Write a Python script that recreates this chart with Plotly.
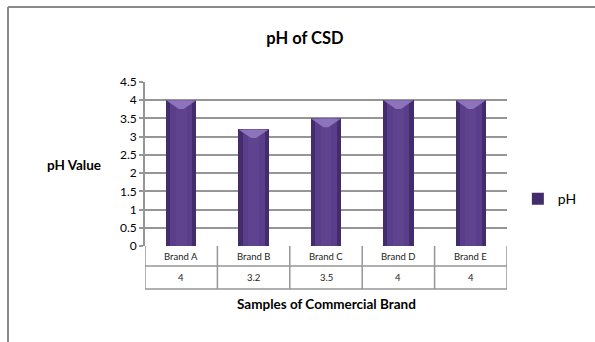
import plotly.graph_objects as go

categories = ["Brand A", "Brand B", "Brand C", "Brand D", "Brand E"]
ph_values = [4, 3.2, 3.5, 4, 4]
value_labels = ["4", "3.2", "3.5", "4", "4"]
series_name = "pH"

FONT = "Lato, 'Open Sans', sans-serif"
GRID = "#969696"
xs = list(range(len(categories)))
BW = 0.42

fig = go.Figure()
# outer (dark edge) bar
fig.add_trace(go.Bar(x=xs, y=ph_values, width=BW, name=series_name,
                     marker=dict(color="#432C6C", line=dict(width=0)),
                     showlegend=True, hoverinfo="skip"))
# inner lighter body
fig.add_trace(go.Bar(x=xs, y=ph_values, width=BW * 0.72,
                     marker=dict(color="#5A3D8B", line=dict(width=0)),
                     showlegend=False, hoverinfo="skip"))
fig.add_trace(go.Bar(x=xs, y=ph_values, width=BW * 0.35,
                     marker=dict(color="#60438F", line=dict(width=0)),
                     showlegend=False, hoverinfo="skip"))
# top bevel shapes derived from the data
for i, v in zip(xs, ph_values):
    fig.add_trace(go.Scatter(
        x=[i - BW / 2, i + BW / 2, i + BW * 0.08, i - BW * 0.08, i - BW / 2],
        y=[v, v, v - 0.24, v - 0.24, v],
        fill="toself", mode="lines", line=dict(width=0),
        fillcolor="rgba(150,125,195,0.85)", showlegend=False, hoverinfo="skip"))

shapes = []
ph_h = 164.0
r1 = -20 / ph_h
r2 = -43 / ph_h
xl = -0.5 - 31 / 72.4
for k in range(len(categories) + 1):
    shapes.append(dict(type="line", xref="x", yref="paper", x0=k - 0.5, x1=k - 0.5,
                       y0=0, y1=r2, line=dict(color=GRID, width=1.5)))
shapes.append(dict(type="line", xref="x", yref="paper", x0=xl, x1=xl, y0=r1, y1=r2,
                   line=dict(color=GRID, width=1.5)))
for yy in (r1, r2):
    shapes.append(dict(type="line", xref="x", yref="paper", x0=xl, x1=len(categories) - 0.5,
                       y0=yy, y1=yy, line=dict(color=GRID, width=1.5)))
# legend key inside table
shapes.append(dict(type="rect", xref="x", yref="paper",
                   x0=xl + 0.075, x1=xl + 0.155, y0=(r1 + r2) / 2 - 0.022, y1=(r1 + r2) / 2 + 0.022,
                   fillcolor="#563A86", line=dict(width=0)))
# outer frame
shapes.append(dict(type="line", xref="paper", yref="paper", x0=(8 - 145) / 362, x1=1.4,
                   y0=(246 - 7) / ph_h, y1=(246 - 7) / ph_h, line=dict(color="#8a8a8a", width=2)))
shapes.append(dict(type="line", xref="paper", yref="paper", x0=(8 - 145) / 362, x1=(8 - 145) / 362,
                   y0=(246 - 7) / ph_h, y1=-0.7, line=dict(color="#8a8a8a", width=2)))

annotations = []
for i, (c, t) in enumerate(zip(categories, value_labels)):
    annotations.append(dict(x=i, y=r1 / 2, xref="x", yref="paper", text=c, showarrow=False,
                            font=dict(family=FONT, size=9.5, color="#222"),
                            xanchor="center", yanchor="middle"))
    annotations.append(dict(x=i, y=(r1 + r2) / 2, xref="x", yref="paper", text=t, showarrow=False,
                            font=dict(family=FONT, size=9.5, color="#222"),
                            xanchor="center", yanchor="middle"))
annotations.append(dict(x=xl + 0.17, y=(r1 + r2) / 2, xref="x", yref="paper", text=series_name,
                        showarrow=False, xanchor="left", yanchor="middle",
                        font=dict(family=FONT, size=9.5, color="#222")))
annotations.append(dict(x=(74 - 145) / 362, y=(246 - 165) / ph_h, xref="paper", yref="paper",
                        text="<b>pH Value</b>", showarrow=False, xanchor="center", yanchor="middle",
                        font=dict(family=FONT, size=13.5, color="#000")))
annotations.append(dict(x=(326 - 145) / 362, y=-(304 - 246) / ph_h, xref="paper", yref="paper",
                        text="<b>Samples of Commercial Brand</b>", showarrow=False,
                        xanchor="center", yanchor="middle",
                        font=dict(family=FONT, size=13.5, color="#000")))

fig.update_layout(
    width=595, height=342,
    margin=dict(l=145, r=88, t=82, b=96, autoexpand=False),
    paper_bgcolor="white", plot_bgcolor="white",
    barmode="overlay", bargap=0,
    title=dict(text="<b>pH of CSD</b>", x=305 / 595, y=1 - 38 / 342, xanchor="center",
               yanchor="middle", font=dict(family=FONT, size=16.5, color="#000")),
    xaxis=dict(range=[-0.5, len(categories) - 0.5], showticklabels=False, showgrid=False,
               zeroline=False, showline=False, fixedrange=True, automargin=False),
    yaxis=dict(range=[0, 4.5], dtick=0.5, tick0=0, showgrid=True, gridcolor=GRID, gridwidth=1.6,
               zeroline=False, showline=True, linecolor=GRID, linewidth=1.6,
               ticks="outside", ticklen=4, tickcolor=GRID, tickwidth=1.6, automargin=False,
               tickfont=dict(family=FONT, size=12, color="#000"), fixedrange=True),
    legend=dict(x=1.03, y=0.285, xanchor="left", yanchor="middle",
                font=dict(family=FONT, size=14, color="#000"), bgcolor="rgba(0,0,0,0)",
                itemwidth=30),
    shapes=shapes, annotations=annotations,
    showlegend=True,
)

fig.write_html("out.html", config={"displayModeBar": False},
               post_script="document.body.style.margin='0';")
